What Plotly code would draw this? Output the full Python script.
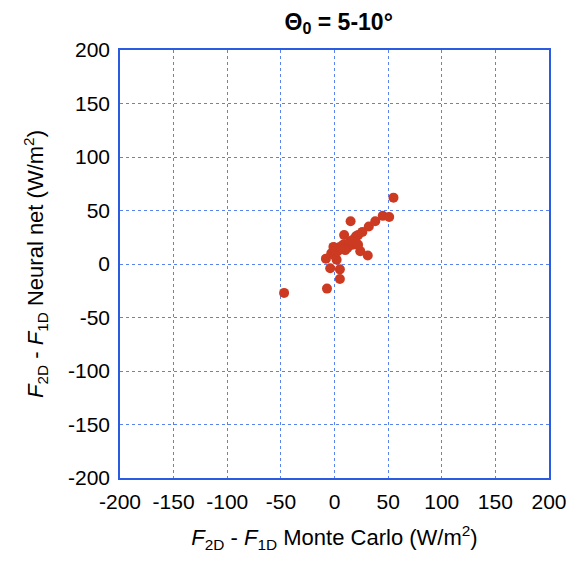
import plotly.graph_objects as go

# Data (W/m^2)
mc_x = [-47, -7, 5, 5, -4, -8, -3, 2, 0, 3, 5, 8, 12, 10, 14, 17, 9, 15, 18, 20,
        22, 24, 22, 26, 20, 31, 32, 38, 45, 51, 55, 16, -1, 1, 6]
nn_y = [-27, -23, -14, -5, -4, 5, 10, 4, 8, 12, 16, 18, 15, 13, 20, 18, 27, 40, 23, 26,
        27, 12, 18, 30, 20, 8, 35, 40, 45, 44, 62, 22, 16, 12, 14]

tick_vals = [-200, -150, -100, -50, 0, 50, 100, 150, 200]
tick_text = ["-200", "-150", "-100", "-50", "0", "50", "100", "150", "200"]

blue = "#2a5be0"
red = "#cc3a22"
font_family = "Liberation Sans, Arial, sans-serif"

fig = go.Figure()
fig.add_trace(go.Scatter(x=mc_x, y=nn_y, mode="markers",
                         marker=dict(color=red, size=10, line=dict(width=0)),
                         showlegend=False))

axis_common = dict(range=[-200, 200], tickvals=tick_vals, ticktext=tick_text, showgrid=True,
                   gridcolor="#5a82ee", griddash="dot", gridwidth=1,
                   showline=True, linecolor=blue, linewidth=1.5, mirror=True,
                   zeroline=False, ticks="", ticklabelstandoff=4,
                   tickfont=dict(size=21, color="black", family=font_family))

fig.update_layout(
    width=579, height=568,
    margin=dict(l=120, r=26, t=50, b=90),
    plot_bgcolor="white", paper_bgcolor="white",
    font=dict(family=font_family, color="black"),
    title=dict(text="<b>Θ<sub>0</sub> = 5-10°</b>", x=0.585, xanchor="center",
               y=0.962, yanchor="middle", font=dict(size=23)),
    xaxis=dict(**axis_common,
               title=dict(text="<i>F</i><sub>2D</sub> - <i>F</i><sub>1D</sub> Monte Carlo (W/m<sup>2</sup>)",
                          font=dict(size=22), standoff=18)),
    yaxis=dict(**axis_common,
               title=dict(text="<i>F</i><sub>2D</sub> - <i>F</i><sub>1D</sub> Neural net (W/m<sup>2</sup>)",
                          font=dict(size=22), standoff=18)),
)

fig.write_html("out.html")
